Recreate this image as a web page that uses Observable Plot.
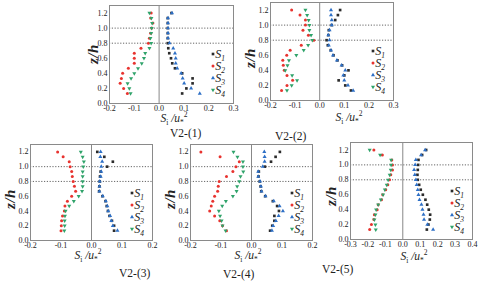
<!DOCTYPE html>
<html><head><meta charset="utf-8">
<script src="https://cdn.jsdelivr.net/npm/d3@7"></script>
<script src="https://cdn.jsdelivr.net/npm/@observablehq/plot@0.6"></script>
<style>
body{margin:0;background:#fff;}
#fig{position:relative;width:480px;height:282px;overflow:hidden;font-family:"Liberation Serif","DejaVu Serif",serif;background:#fff;}
#fig svg text{font-family:"Liberation Serif","DejaVu Serif",serif !important;}
.zl{position:absolute;font-family:"Liberation Serif","DejaVu Serif",serif;font-style:italic;font-weight:bold;font-size:15px;transform:translate(-50%,-50%) rotate(-90deg);white-space:nowrap;color:#222;letter-spacing:0.5px;line-height:15px;}
.xl{position:absolute;font-family:"Liberation Serif","DejaVu Serif",serif;font-style:italic;font-size:11.5px;transform:translateX(-50%);white-space:nowrap;color:#222;line-height:10px;}
.xl sub,.xl sup{font-size:7.5px;font-style:normal;line-height:0;}
.cap{position:absolute;font-family:"Liberation Serif","DejaVu Serif",serif;font-size:11.5px;white-space:nowrap;color:#222;line-height:11px;}
</style></head><body><div id="fig"></div><script>
// z/h measurement levels (bottom to top)
const levels = [0.133,0.2,0.267,0.333,0.4,0.467,0.533,0.6,0.667,0.733,0.8,0.867,0.933,1.0,1.067,1.133,1.2];
const seriesNames = ["S1","S2","S3","S4"];
const yTicks = [0,0.2,0.4,0.6,0.8,1.0,1.2];
const refLines = [0.8,1.0];
const xTicksA = [-0.2,-0.1,0,0.1,0.2,0.3];
const xTicksB = [-0.2,-0.1,0,0.1,0.2];
const xTicksC = [-0.3,-0.2,-0.1,0,0.1,0.2,0.3,0.4];
const captions = ["V2-(1)","V2-(2)","V2-(3)","V2-(4)","V2-(5)"];

// Panel V2-(1)
const p1S1 = [0.093,0.11,0.135,0.135,0.093,0.064,0.053,0.048,0.041,0.037,0.035,0.035,0.035,0.035,0.035,0.035,0.05];
const p1S2 = [-0.128,-0.143,-0.157,-0.152,-0.147,-0.124,-0.1,-0.1,-0.1,-0.073,-0.043,-0.039,-0.034,-0.03,-0.025,-0.034,-0.032];
const p1S3 = [0.164,0.129,0.101,0.095,0.089,0.073,0.067,0.067,0.064,0.057,0.042,0.036,0.036,0.036,0.036,0.036,0.052];
const p1S4 = [-0.115,-0.12,-0.127,-0.113,-0.1,-0.085,-0.07,-0.061,-0.056,-0.039,-0.032,-0.035,-0.032,-0.03,-0.028,-0.031,-0.039];
// Panel V2-(2)
const p2S1 = [0.127,0.104,0.077,0.1,0.117,0.091,0.072,0.056,0.045,0.033,0.028,0.035,0.037,0.049,0.063,0.074,0.083];
const p2S2 = [-0.155,-0.133,-0.11,-0.133,-0.144,-0.148,-0.15,-0.134,-0.12,-0.075,-0.024,-0.046,-0.068,-0.058,-0.058,-0.08,-0.114];
const p2S3 = [0.136,0.115,0.1,0.096,0.104,0.089,0.07,0.054,0.046,0.037,0.04,0.035,0.04,0.049,0.049,0.046,0.046];
const p2S4 = [-0.133,-0.114,-0.092,-0.112,-0.14,-0.131,-0.125,-0.095,-0.065,-0.047,-0.03,-0.035,-0.042,-0.042,-0.045,-0.051,-0.058];
// Panel V2-(3)
const p3S1 = [0.074,0.074,0.067,0.059,0.054,0.05,0.046,0.036,0.025,0.026,0.027,0.028,0.03,0.051,0.07,0.042,0.019];
const p3S2 = [-0.1,-0.099,-0.098,-0.095,-0.089,-0.087,-0.079,-0.065,-0.052,-0.056,-0.06,-0.063,-0.065,-0.07,-0.073,-0.093,-0.111];
const p3S3 = [0.085,0.07,0.065,0.061,0.055,0.052,0.047,0.037,0.026,0.026,0.027,0.03,0.032,0.032,0.035,0.029,0.03];
const p3S4 = [-0.089,-0.088,-0.088,-0.087,-0.085,-0.073,-0.058,-0.042,-0.031,-0.029,-0.029,-0.029,-0.029,-0.027,-0.025,-0.029,-0.035];
// Panel V2-(4)
const p4S1 = [0.061,0.068,0.075,0.075,0.09,0.084,0.07,0.045,0.032,0.03,0.027,0.023,0.024,0.044,0.064,0.079,0.093];
const p4S2 = [-0.082,-0.095,-0.104,-0.121,-0.137,-0.132,-0.127,-0.121,-0.111,-0.109,-0.106,-0.082,-0.061,-0.051,-0.04,-0.103,-0.166];
const p4S3 = [0.067,0.071,0.08,0.089,0.103,0.092,0.073,0.046,0.033,0.031,0.028,0.022,0.022,0.037,0.043,0.043,0.042];
const p4S4 = [-0.085,-0.095,-0.098,-0.103,-0.107,-0.096,-0.084,-0.061,-0.049,-0.047,-0.04,-0.036,-0.027,-0.028,-0.028,-0.046,-0.059];
// Panel V2-(5)
const p5S1 = [0.138,0.147,0.155,0.157,0.149,0.14,0.13,0.115,0.103,0.094,0.086,0.084,0.086,0.088,0.09,0.111,0.134];
const p5S2 = [-0.19,-0.18,-0.166,-0.163,-0.147,-0.141,-0.122,-0.115,-0.098,-0.086,-0.076,-0.069,-0.059,-0.059,-0.063,-0.117,-0.166];
const p5S3 = [0.174,0.141,0.122,0.119,0.113,0.107,0.096,0.09,0.086,0.08,0.075,0.069,0.065,0.071,0.075,0.105,0.128];
const p5S4 = [-0.155,-0.157,-0.163,-0.157,-0.153,-0.141,-0.126,-0.113,-0.103,-0.092,-0.084,-0.075,-0.069,-0.067,-0.067,-0.13,-0.19];

const colors = ["#2b2b2b","#e8332f","#2d6fc6","#2fa36a"];
const triDown = {draw(ctx, size){ const y = -Math.sqrt(size/(Math.sqrt(3)*3)); const s3=Math.sqrt(3);
  ctx.moveTo(0,-y*2); ctx.lineTo(-s3*y, y); ctx.lineTo(s3*y, y); ctx.closePath(); }};
const symbols = [d3.symbolSquare, d3.symbolCircle, d3.symbolTriangle, triDown];
const fmt = d => (Math.abs(d) < 1e-9 ? 0 : d).toFixed(1);
const R = 1.5;

// layout: frame box in page px, label anchor positions
const panels = [
  {data:[p1S1,p1S2,p1S3,p1S4], xdom:[-0.2,0.3], xticks:xTicksA, left:109, right:233, top:5, bottom:103, zx:93, zy:54, lx:174, ly:113, cx:170, cy:128},
  {data:[p2S1,p2S2,p2S3,p2S4], xdom:[-0.2,0.3], xticks:xTicksA, left:270, right:393, top:2, bottom:100, zx:250, zy:58, lx:349, ly:112, cx:275, cy:131},
  {data:[p3S1,p3S2,p3S3,p3S4], xdom:[-0.2,0.2], xticks:xTicksB, left:30, right:152, top:144, bottom:240, zx:10, zy:199, lx:88, ly:250, cx:119, cy:268},
  {data:[p4S1,p4S2,p4S3,p4S4], xdom:[-0.2,0.2], xticks:xTicksB, left:190, right:312, top:144, bottom:240, zx:170, zy:199, lx:248, ly:250, cx:223, cy:269},
  {data:[p5S1,p5S2,p5S3,p5S4], xdom:[-0.3,0.4], xticks:xTicksC, left:350, right:472, top:142, bottom:239, zx:331, zy:196, lx:414, ly:251, cx:322, cy:264}
];

const fig = document.getElementById("fig");
const mL=30, mR=10, mT=6, mB=20;
panels.forEach((cfg, pi) => {
  const rows = [];
  seriesNames.forEach((name,k) => cfg.data[k].forEach((v,i) => rows.push({name, x:v, z:levels[i]})));
  const W = cfg.right - cfg.left, H = cfg.bottom - cfg.top;
  const svg = Plot.plot({
    width: W+mL+mR, height: H+mT+mB, marginLeft:mL, marginRight:mR, marginTop:mT, marginBottom:mB,
    style:{fontFamily:"Liberation Serif, serif", fontSize:"8px", color:"#222", background:"transparent", overflow:"visible"},
    x:{domain:cfg.xdom, ticks:cfg.xticks, tickFormat:fmt, label:null, tickSize:0, tickPadding:2},
    y:{domain:[0,1.3], ticks:yTicks, tickFormat:fmt, label:null, tickSize:0, tickPadding:2},
    symbol:{domain:seriesNames, range:symbols},
    color:{domain:seriesNames, range:colors},
    marks:[
      Plot.ruleY(refLines, {stroke:"#555", strokeDasharray:"1.2,1.6", strokeWidth:0.9}),
      Plot.ruleX([0], {stroke:"#888", strokeWidth:1}),
      Plot.dot(rows, {x:"x", y:"z", symbol:"name", fill:"name", r:R}),
      Plot.frame({stroke:"#8a8a8a", strokeWidth:1})
    ]
  });
  svg.style.position = "absolute";
  svg.style.left = (cfg.left - mL) + "px";
  svg.style.top = (cfg.top - mT) + "px";
  // legend inside frame
  const g = d3.select(svg).append("g");
  seriesNames.forEach((name,k) => {
    const mx = mL + W - 20, my = mT + 49 + k*12;
    g.append("path").attr("transform",`translate(${mx},${my})`)
      .attr("d", d3.symbol(symbols[k], R*R*Math.PI)()).attr("fill", colors[k]);
    const t = g.append("text").attr("x", mx+7).attr("y", my+4)
      .attr("font-style","italic").attr("font-size",12).attr("fill","#222");
    t.append("tspan").text("S");
    t.append("tspan").attr("dy",2.5).attr("font-size",7.5).text(name.slice(1));
  });
  fig.appendChild(svg);

  const z = document.createElement("div"); z.className="zl"; z.textContent="z/h";
  z.style.left = cfg.zx+"px"; z.style.top = cfg.zy+"px"; fig.appendChild(z);
  const xl = document.createElement("div"); xl.className="xl";
  xl.innerHTML = "S<sub>i</sub> /u<sub>*</sub><sup>2</sup>";
  xl.style.left = cfg.lx+"px"; xl.style.top = cfg.ly+"px"; fig.appendChild(xl);
  const cap = document.createElement("div"); cap.className="cap"; cap.textContent = captions[pi];
  cap.style.left = cfg.cx+"px"; cap.style.top = cfg.cy+"px"; fig.appendChild(cap);
});
</script></body></html>
